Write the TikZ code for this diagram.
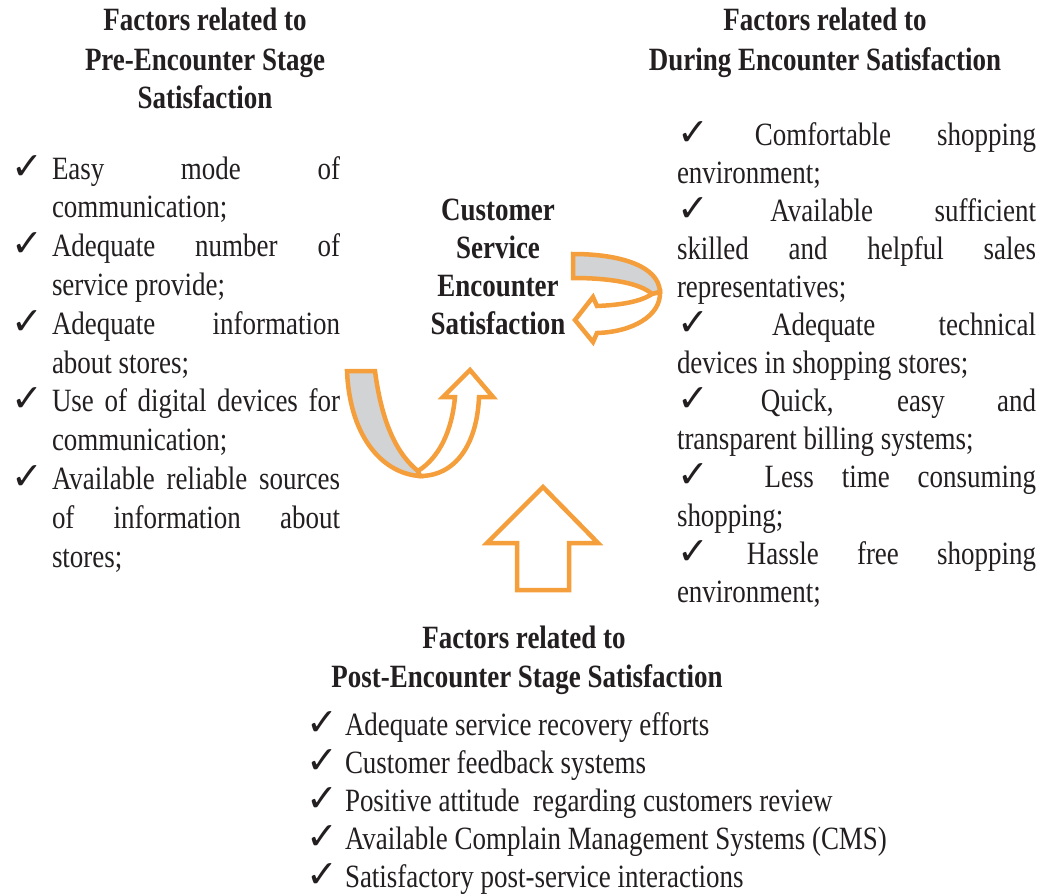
\documentclass[tikz,border=0pt]{standalone}
\usepackage{fontspec}
\setmainfont{Liberation Serif}[FakeStretch=0.83]
\newfontfamily\chkfont{DejaVu Sans}
\definecolor{arrowor}{RGB}{245,158,60}
\definecolor{bandgray}{RGB}{209,211,212}
\definecolor{txt}{RGB}{35,31,32}
\newcommand\jl[2]{\makebox[#1pt][s]{#2}}
\newcommand\ck{{\chkfont\fontsize{38}{38}\selectfont ✓}}
\tikzset{
  every node/.style={inner sep=0pt, outer sep=0pt, text=txt},
  body/.style={font=\fontsize{32.5}{38.5}\selectfont, anchor=base west},
  head/.style={font=\fontsize{32.5}{38.5}\selectfont\bfseries, anchor=base},
  chk/.style={anchor=base west},
  arrowline/.style={draw=arrowor, line width=4.5pt, line join=miter},
}
\begin{document}
\begin{tikzpicture}[x=1pt,y=-1pt]
\useasboundingbox (0,0) rectangle (1044,895);

% ---------- headings ----------
\node[head] (h1a) at (205,30) {Factors related to};
\node[head] (h1b) at (205,70) {Pre-Encounter Stage};
\node[head] (h1c) at (205,108) {Satisfaction};

\node[head] (h2a) at (825,30) {Factors related to};
\node[head] (h2b) at (825,70) {During Encounter Satisfaction};

\node[head] (h3a) at (524,648) {Factors related to};
\node[head] (h3b) at (527,687) {Post-Encounter Stage Satisfaction};

% ---------- centre ----------
\node[head] (c1) at (498,220) {Customer};
\node[head] (c2) at (498,258) {Service};
\node[head] (c3) at (498,296) {Encounter};
\node[head] (c4) at (498,334) {Satisfaction};

% ---------- left list ----------
\foreach \t [count=\i] in {
  {\jl{288}{Easy mode of}},
  {communication;},
  {\jl{288}{Adequate number of}},
  {service provide;},
  {\jl{288}{Adequate information}},
  {about stores;},
  {\jl{288}{Use of digital devices for}},
  {communication;},
  {\jl{288}{Available reliable sources}},
  {\jl{288}{of information about}},
  {stores;}}
  \node[body] (L\i) at (52,{179+38.8*(\i-1)}) {\t};
\foreach \i/\k in {1/1,3/2,5/3,7/4,9/5}
  \node[chk] (Lc\k) at (12,{179+38.8*(\i-1)}) {\ck};

% ---------- right list ----------
\foreach \t [count=\i] in {
  {\jl{359}{\ck{} Comfortable shopping}},
  {environment;},
  {\jl{359}{\ck{} Available sufficient}},
  {\jl{359}{skilled and helpful sales}},
  {representatives;},
  {\jl{359}{\ck{} Adequate technical}},
  {devices in shopping stores;},
  {\jl{359}{\ck{} Quick, easy and}},
  {transparent billing systems;},
  {\jl{359}{\ck{} \ Less time consuming}},
  {shopping;},
  {\jl{359}{\ck{} Hassle free shopping}},
  {environment;}}
  \node[body] (R\i) at (677,{145+38.1*(\i-1)}) {\t};

% ---------- bottom list ----------
\foreach \t [count=\i] in {
  {Adequate service recovery efforts},
  {Customer feedback systems},
  {Positive attitude\ \ regarding customers review},
  {Available Complain Management Systems (CMS)},
  {Satisfactory post-service interactions}}
{
  \node[body] (B\i) at (345,{735+38*(\i-1)}) {\t};
  \node[chk] (Bc\i) at (306,{735+38*(\i-1)}) {\ck};
}

% ---------- up block arrow ----------
\draw[arrowline, fill=white]
  (517,590) -- (517,543) -- (487,543) -- (543,487) -- (598,543)
  -- (569,543) -- (569,590) -- cycle;

% ---------- left U-shaped arrow ----------
\draw[arrowline, fill=bandgray]
  (347,371) -- (375,371)
  .. controls (382,425) and (398,455) .. (418,471)
  -- (420,476)
  .. controls (385,474) and (350,440) .. (347,371) -- cycle;
\draw[arrowline, fill=white]
  (418,471) .. controls (440,457) and (452,430) .. (455,397)
  -- (443,397) -- (470,370) -- (493,397) -- (479,397)
  .. controls (477,445) and (455,476) .. (420,476) -- cycle;

% ---------- right curved arrow ----------
\draw[arrowline, fill=bandgray]
  (573,254) -- (573,278)
  .. controls (610,278) and (640,283) .. (652,294)
  -- (660,292)
  .. controls (659,266) and (620,254) .. (573,254) -- cycle;
\draw[arrowline, fill=white]
  (652,294) .. controls (640,302) and (620,305) .. (597,306)
  -- (593,297) -- (575,320) -- (593,342) -- (597,333)
  .. controls (632,332) and (661,316) .. (660,292) -- cycle;
\end{tikzpicture}
\end{document}
